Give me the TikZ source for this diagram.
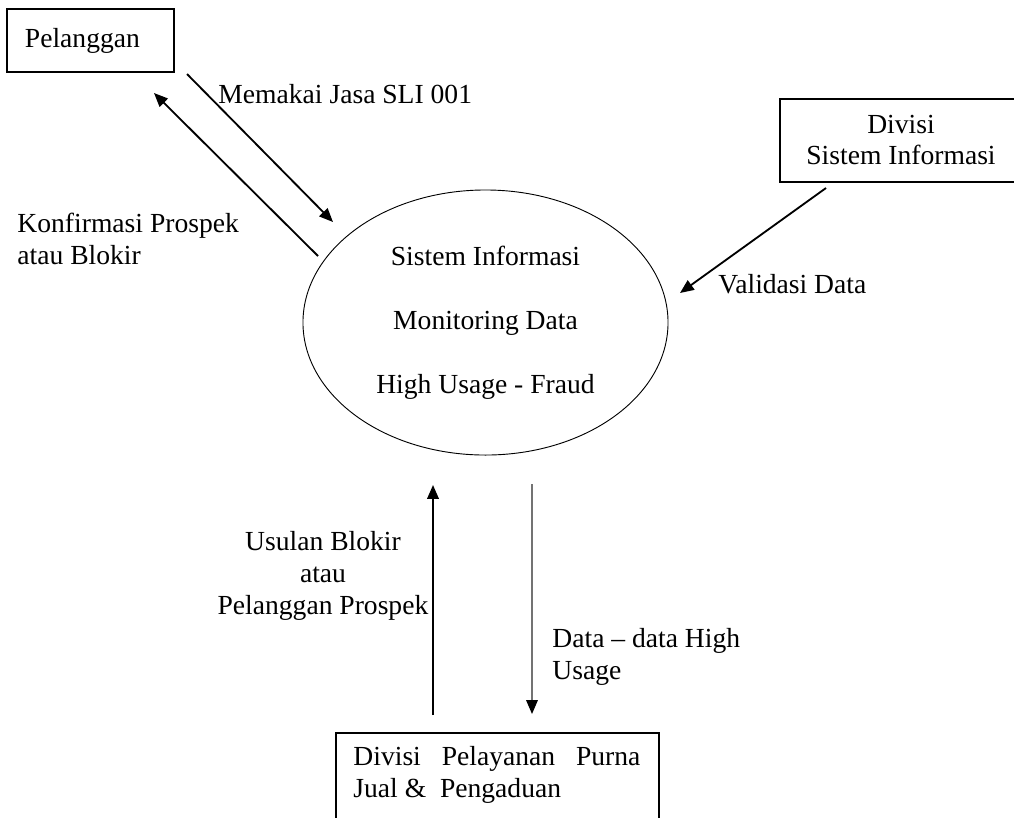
\documentclass[tikz,border=0pt]{standalone}
\usepackage{fontspec}
\setmainfont{Liberation Serif}
\usetikzlibrary{arrows.meta,shapes.geometric}

\begin{document}
\begin{tikzpicture}[x=0.435pt, y=-0.435pt,
  teks/.style={font=\fontsize{12pt}{13.8pt}\selectfont, inner sep=0pt},
  kotak/.style={draw, thick, rectangle, teks},
  aliran/.style={-{Triangle[length=6pt,width=5pt]}, thick}]
\useasboundingbox (0,0) rectangle (1014,817);
\clip (0,0) rectangle (1014,817);
% Entitas luar
\node[kotak, minimum width=72.6pt, minimum height=27.4pt, inner xsep=7.8pt,
  text width=57pt, align=left] (pelanggan) at (90.5,40.5) {Pelanggan};
\node[kotak, minimum width=113.5pt, minimum height=36.1pt, anchor=north west]
  (divsi) at (779,98) {};
\node[teks, align=center] (divsitks) at (901,140) {Divisi\\Sistem Informasi};
\node[kotak, minimum width=140.5pt, minimum height=47pt, anchor=north west]
  (divpel) at (335,732) {};
\node[teks, text width=124.8pt, align=justify, anchor=north west]
  (divpeltks) at (353,746) {Divisi Pelayanan Purna Jual \&\ \ Pengaduan};
% Proses
\node[draw, thin, ellipse, minimum width=158.8pt, minimum height=115.3pt,
  inner sep=0pt, align=center, font=\fontsize{12pt}{27.8pt}\selectfont]
  (sistem) at (485.5,322.5) {Sistem Informasi\\Monitoring Data\\High Usage - Fraud};
% Ujung aliran
\coordinate (mem-s) at (187,74);   \coordinate (mem-e) at (333,222);
\coordinate (konf-s) at (318,256); \coordinate (konf-e) at (154,93);
\coordinate (val-s) at (826,188);  \coordinate (val-e) at (680,293);
\coordinate (usul-s) at (433,715); \coordinate (usul-e) at (433,485);
\coordinate (data-s) at (532,484); \coordinate (data-e) at (532,714);
\draw[aliran] (mem-s) -- (mem-e);
\draw[aliran] (konf-s) -- (konf-e);
\draw[aliran] (val-s) -- (val-e);
\draw[aliran] (usul-s) -- (usul-e);
\draw[-{Triangle[length=6pt,width=5pt,color=black]}, semithick, black!55]
  (data-s) -- (data-e);
% Label aliran
\node[teks, anchor=base west] (lblmem) at (218,103) {Memakai Jasa SLI 001};
\node[teks, anchor=north west, align=left] (lblkonf) at (17,213)
  {Konfirmasi Prospek\\atau Blokir};
\node[teks, anchor=base west] (lblval) at (718,293) {Validasi Data};
\node[teks, anchor=north, align=center] (lblusul) at (323,531)
  {Usulan Blokir\\atau\\Pelanggan Prospek};
\node[teks, anchor=north west, align=left] (lbldata) at (552,628)
  {Data -- data High\\Usage};
\end{tikzpicture}
\end{document}
